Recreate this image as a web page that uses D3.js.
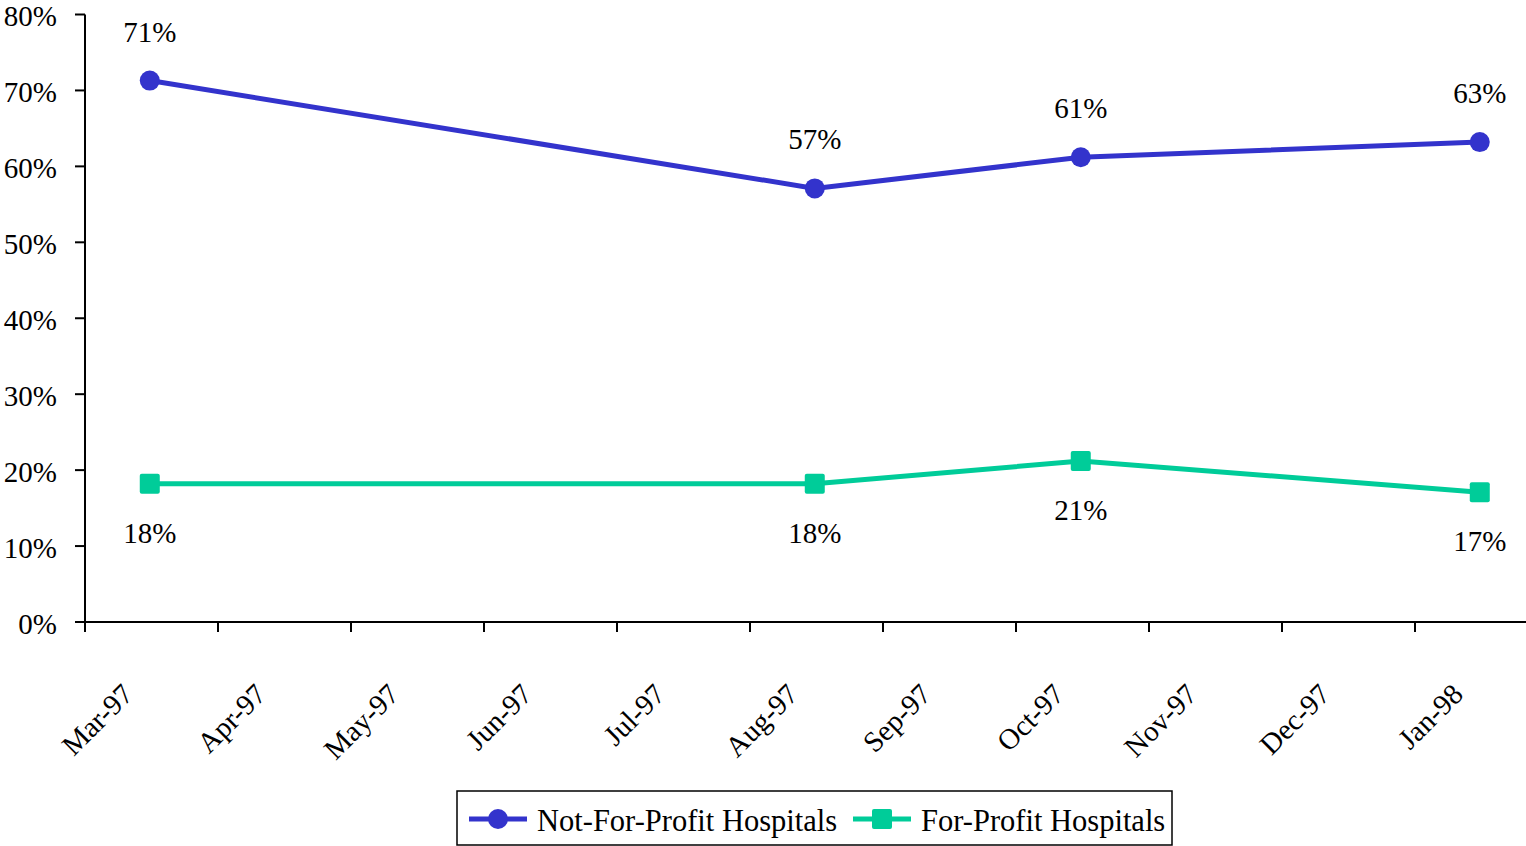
<!DOCTYPE html>
<html>
<head>
<meta charset="utf-8">
<script src="https://cdn.jsdelivr.net/npm/d3@7"></script>
<style>
  html, body { margin: 0; padding: 0; background: #fff; }
  svg { display: block; }
  text { font-family: "Liberation Serif", "Times New Roman", serif; fill: #000; }
</style>
</head>
<body>
<svg id="chart" width="1526" height="846"></svg>
<script>
const months = ["Mar-97","Apr-97","May-97","Jun-97","Jul-97","Aug-97","Sep-97","Oct-97","Nov-97","Dec-97","Jan-98"];
const surveyMonths = ["Mar-97","Aug-97","Oct-97","Jan-98"];
const notForProfit = [71.3, 57.1, 61.2, 63.2];
const forProfit = [18.2, 18.2, 21.2, 17.1];
const yTicks = [0, 10, 20, 30, 40, 50, 60, 70, 80];
const seriesNames = ["Not-For-Profit Hospitals", "For-Profit Hospitals"];
const colors = ["#3333CC", "#00CC99"];

(function () {
const svg = d3.select("#chart");
const plotLeft = 85, plotTop = 14.5, plotBottom = 622, axisRight = 1526;

const x = d3.scaleBand().domain(months).range([plotLeft, plotLeft + 133 * months.length]).padding(0);
const cx = m => x(m) + x.bandwidth() * 0.487;
const y = d3.scaleLinear().domain([0, 80]).range([plotBottom, plotTop]);

// Y axis
const yAxis = svg.append("g").attr("transform", `translate(${plotLeft},0)`);
yAxis.append("line").attr("x1", 0).attr("x2", 0).attr("y1", y(80)).attr("y2", y(0))
  .attr("stroke", "#000").attr("stroke-width", 2);
yAxis.selectAll(".yt").data(yTicks).enter().append("line")
  .attr("x1", -10).attr("x2", 0).attr("y1", d => y(d)).attr("y2", d => y(d))
  .attr("stroke", "#000").attr("stroke-width", 2);
yAxis.selectAll(".yl").data(yTicks).enter().append("text")
  .attr("x", -28).attr("y", d => y(d)).attr("dy", "0.4em")
  .attr("text-anchor", "end").attr("font-size", 29)
  .text(d => d + "%");

// X axis
const xAxis = svg.append("g");
xAxis.append("line").attr("x1", plotLeft).attr("x2", axisRight).attr("y1", plotBottom).attr("y2", plotBottom)
  .attr("stroke", "#000").attr("stroke-width", 2);
xAxis.selectAll(".xt").data(months).enter().append("line")
  .attr("x1", d => x(d)).attr("x2", d => x(d)).attr("y1", plotBottom).attr("y2", plotBottom + 10)
  .attr("stroke", "#000").attr("stroke-width", 2);
xAxis.selectAll(".xl").data(months).enter().append("text")
  .attr("text-anchor", "end").attr("font-size", 29)
  .attr("transform", d => `translate(${cx(d) - 15},${plotBottom + 74}) rotate(-45)`)
  .text(d => d);

// Lines
const line = d3.line().x(d => cx(d.m)).y(d => y(d.v));
const nfp = surveyMonths.map((m, i) => ({ m, v: notForProfit[i] }));
const fp = surveyMonths.map((m, i) => ({ m, v: forProfit[i] }));

svg.append("path").datum(fp).attr("d", line).attr("fill", "none")
  .attr("stroke", colors[1]).attr("stroke-width", 5);
svg.selectAll(".fpm").data(fp).enter().append("rect")
  .attr("x", d => cx(d.m) - 10).attr("y", d => y(d.v) - 10)
  .attr("width", 20).attr("height", 20).attr("rx", 2).attr("fill", colors[1]);

svg.append("path").datum(nfp).attr("d", line).attr("fill", "none")
  .attr("stroke", colors[0]).attr("stroke-width", 5);
svg.selectAll(".nfpm").data(nfp).enter().append("circle")
  .attr("cx", d => cx(d.m)).attr("cy", d => y(d.v)).attr("r", 10).attr("fill", colors[0]);

// Data labels
svg.selectAll(".nfpl").data(nfp).enter().append("text")
  .attr("x", d => cx(d.m)).attr("y", d => y(d.v) - 39)
  .attr("text-anchor", "middle").attr("font-size", 29)
  .text(d => Math.round(d.v) + "%");
svg.selectAll(".fpl").data(fp).enter().append("text")
  .attr("x", d => cx(d.m)).attr("y", d => y(d.v) + 59)
  .attr("text-anchor", "middle").attr("font-size", 29)
  .text(d => Math.round(d.v) + "%");

// Legend
const lg = svg.append("g");
lg.append("rect").attr("x", 457).attr("y", 791).attr("width", 715).attr("height", 54)
  .attr("fill", "#fff").attr("stroke", "#000").attr("stroke-width", 1.5);
const items = [
  { name: seriesNames[0], color: colors[0], lx: 469, tx: 537, shape: "circle" },
  { name: seriesNames[1], color: colors[1], lx: 853, tx: 921, shape: "square" }
];
items.forEach(it => {
  lg.append("line").attr("x1", it.lx).attr("x2", it.lx + 58).attr("y1", 819).attr("y2", 819)
    .attr("stroke", it.color).attr("stroke-width", 5);
  if (it.shape === "circle") {
    lg.append("circle").attr("cx", it.lx + 29).attr("cy", 819).attr("r", 10).attr("fill", it.color);
  } else {
    lg.append("rect").attr("x", it.lx + 19).attr("y", 809).attr("width", 20).attr("height", 20)
      .attr("rx", 2).attr("fill", it.color);
  }
  lg.append("text").attr("x", it.tx).attr("y", 831).attr("font-size", 30.5).text(it.name);
});
})();
</script>
</body>
</html>
